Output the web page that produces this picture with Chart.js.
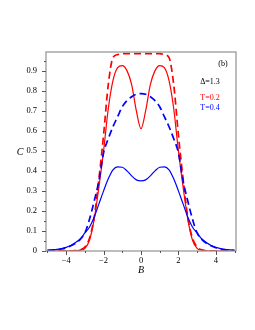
<!DOCTYPE html>
<html>
<head>
<meta charset="utf-8">
<script src="https://cdn.jsdelivr.net/npm/chart.js@4.4.1/dist/chart.umd.min.js"></script>
<style>
html,body{margin:0;padding:0;background:#fff;}
#wrap{width:255px;height:330px;position:relative;}
</style>
</head>
<body>
<div id="wrap"><canvas id="c" width="255" height="330"></canvas></div>
<script>
// B values
const B = [-5,-4.75,-4.5,-4.25,-4,-3.75,-3.5,-3.25,-3,-2.75,-2.5,-2.25,-2,-1.75,-1.5,-1.25,-1,-0.75,-0.5,-0.25,
  0,0.25,0.5,0.75,1,1.25,1.5,1.75,2,2.25,2.5,2.75,3,3.25,3.5,3.75,4,4.25,4.5,4.75,5];
// T=0.2 dashed (red)
const redDashed = [0,0,0,0,0,0.001,0.002,0.006,0.02,0.065,0.17,0.36,0.58,0.83,0.965,0.98,0.985,0.985,0.985,0.985,
  0.985,0.985,0.985,0.985,0.985,0.98,0.965,0.83,0.58,0.36,0.17,0.065,0.02,0.006,0.002,0.001,0,0,0,0,0];
// T=0.2 solid (red)
const redSolid = [0,0,0,0,0,0,0.001,0.004,0.013,0.055,0.16,0.32,0.50,0.71,0.85,0.915,0.925,0.90,0.83,0.70,
  0.61,0.70,0.83,0.90,0.925,0.915,0.85,0.71,0.50,0.32,0.16,0.055,0.013,0.004,0.001,0,0,0,0,0,0];
// T=0.4 dashed (blue)
const blueDashed = [0.002,0.004,0.006,0.01,0.016,0.026,0.038,0.058,0.09,0.16,0.25,0.35,0.49,0.56,0.62,0.67,0.72,0.75,0.77,0.782,
  0.785,0.782,0.77,0.75,0.72,0.67,0.62,0.56,0.49,0.35,0.25,0.16,0.09,0.058,0.038,0.026,0.016,0.01,0.006,0.004,0.002];
// T=0.4 solid (blue)
const blueSolid = [0.004,0.006,0.008,0.012,0.018,0.027,0.042,0.06,0.09,0.12,0.17,0.235,0.30,0.36,0.405,0.42,0.418,0.40,0.375,0.355,
  0.35,0.355,0.375,0.40,0.418,0.42,0.405,0.36,0.30,0.235,0.17,0.12,0.09,0.06,0.042,0.027,0.018,0.012,0.008,0.006,0.004];

const xTicks = [-4,-2,0,2,4];
const xTickLabels = ['\u22124','\u22122','0','2','4'];
const xMinor = [-5,-3,-1,1,3,5];
const yTicks = [0,0.1,0.2,0.3,0.4,0.5,0.6,0.7,0.8,0.9];
const yTickLabels = ['0','0.1','0.2','0.3','0.4','0.5','0.6','0.7','0.8','0.9'];
const yMinor = [0.05,0.15,0.25,0.35,0.45,0.55,0.65,0.75,0.85,0.95];

const pts = arr => B.map((b,i)=>({x:b,y:arr[i]}));
const serif = "'Liberation Serif','DejaVu Serif',serif";

const decor = {
  id:'decor',
  afterDraw(chart){
    const ctx = chart.ctx, a = chart.chartArea;
    const xs = chart.scales.x, ys = chart.scales.y;
    ctx.save();
    // frame
    ctx.strokeStyle = '#9a9a9a';
    ctx.lineWidth = 1.3;
    ctx.strokeRect(a.left, a.top, a.right-a.left, a.bottom-a.top);
    // ticks
    ctx.strokeStyle = '#555';
    ctx.lineWidth = 1;
    ctx.beginPath();
    yTicks.forEach(v=>{const p=Math.round(ys.getPixelForValue(v))+0.5; ctx.moveTo(a.left-4,p); ctx.lineTo(a.left,p);});
    yMinor.forEach(v=>{const p=Math.round(ys.getPixelForValue(v))+0.5; if(p>a.top+1){ctx.moveTo(a.left-2,p); ctx.lineTo(a.left,p);}});
    xTicks.forEach(v=>{const p=Math.round(xs.getPixelForValue(v))+0.5; ctx.moveTo(p,a.bottom); ctx.lineTo(p,a.bottom+4);});
    xMinor.forEach(v=>{const p=Math.round(xs.getPixelForValue(v))+0.5; ctx.moveTo(p,a.bottom); ctx.lineTo(p,a.bottom+2);});
    ctx.stroke();
    // axis titles
    ctx.fillStyle = '#000';
    ctx.textAlign = 'center';
    ctx.textBaseline = 'middle';
    ctx.font = 'italic 10px ' + serif;
    ctx.fillText('C', 20, 152);
    ctx.fillText('B', 141, 270);
    // annotations
    ctx.font = '8px ' + serif;
    ctx.fillText('(b)', 223, 64);
    ctx.fillText('\u0394=1.3', 210, 82);
    ctx.fillStyle = '#ff0000';
    ctx.fillText('T=0.2', 210, 98);
    ctx.fillStyle = '#0000ff';
    ctx.fillText('T=0.4', 210, 108);
    ctx.restore();
  }
};

new Chart(document.getElementById('c'), {
  type:'line',
  data:{
    datasets:[
      {data:pts(blueSolid), borderColor:'#0000ff', borderWidth:1.2},
      {data:pts(blueDashed), borderColor:'#0000ff', borderWidth:1.7, borderDash:[7,4]},
      {data:pts(redSolid), borderColor:'#ff0000', borderWidth:1.2},
      {data:pts(redDashed), borderColor:'#ff0000', borderWidth:1.7, borderDash:[7,4]}
    ]
  },
  options:{
    responsive:false,
    animation:false,
    events:[],
    layout:{padding:{left:0,right:19,top:52,bottom:0}},
    elements:{point:{radius:0}, line:{cubicInterpolationMode:'monotone', fill:false}},
    plugins:{legend:{display:false}, tooltip:{enabled:false}},
    scales:{
      x:{
        type:'linear', min:-5.08, max:5.08,
        grid:{display:false, drawTicks:false},
        border:{display:false},
        afterBuildTicks:s=>{s.ticks = xTicks.map(v=>({value:v}));},
        afterFit:s=>{s.height = 79;},
        ticks:{color:'#000', padding:5, font:{family:serif, size:8.5},
          callback:(v)=>{const i=xTicks.indexOf(v); return i>=0?xTickLabels[i]:'';}, maxRotation:0, autoSkip:false}
      },
      y:{
        type:'linear', min:0, max:0.993,
        grid:{display:false, drawTicks:false},
        border:{display:false},
        afterBuildTicks:s=>{s.ticks = yTicks.map(v=>({value:v}));},
        afterFit:s=>{s.width = 46;},
        ticks:{color:'#000', padding:9, font:{family:serif, size:8.5},
          callback:(v)=>{const i=yTicks.findIndex(t=>Math.abs(t-v)<1e-9); return i>=0?yTickLabels[i]:'';}, autoSkip:false}
      }
    }
  },
  plugins:[decor]
});
</script>
</body>
</html>
